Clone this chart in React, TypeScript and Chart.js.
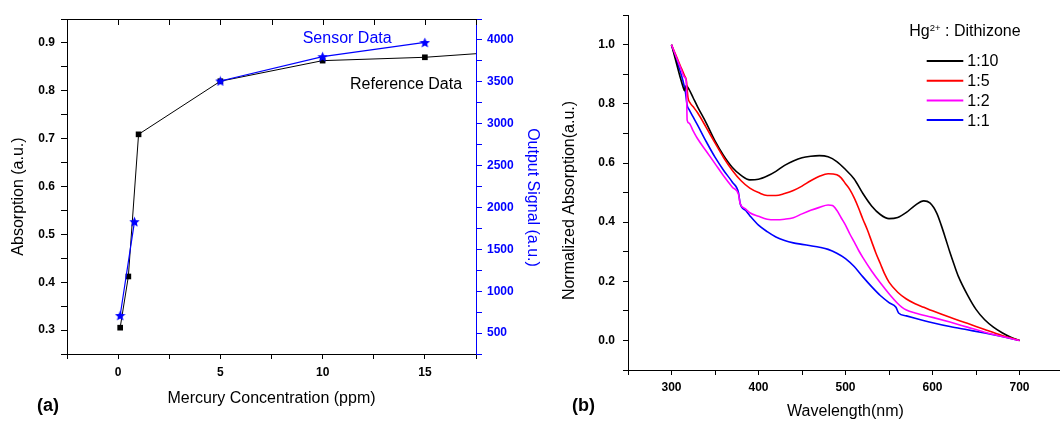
import React, { useEffect, useRef } from 'react';
import { Chart, registerables } from 'chart.js';

Chart.register(...registerables);

// ---------- Panel (a) data ----------
const refConc = [0.1, 0.5, 1.0, 5, 10, 15, 20];
const refAbs = [0.305, 0.412, 0.709, 0.82, 0.863, 0.87, 0.885];
const sensorConc = [0.1, 0.8, 1.0, 5, 10, 15];
const sensorSignal = [710, 1830, null, 3510, 3800, 3970];
const refLabel = 'Reference Data';
const sensorLabel = 'Sensor Data';

const xTicksA = [-2.5, 0, 2.5, 5, 7.5, 10, 12.5, 15, 17.5];
const xLabelsA = ['', '0', '', '5', '', '10', '', '15', ''];
const yTicksA = [0.25, 0.3, 0.35, 0.4, 0.45, 0.5, 0.55, 0.6, 0.65, 0.7, 0.75, 0.8, 0.85, 0.9, 0.95];
const yLabelsA = ['', '0.3', '', '0.4', '', '0.5', '', '0.6', '', '0.7', '', '0.8', '', '0.9', ''];
const y2TicksA = [250, 500, 750, 1000, 1250, 1500, 1750, 2000, 2250, 2500, 2750, 3000, 3250, 3500, 3750, 4000, 4250];
const y2LabelsA = ['', '500', '', '1000', '', '1500', '', '2000', '', '2500', '', '3000', '', '3500', '', '4000', ''];

// ---------- Panel (b) data ----------
const wl110 = [300, 305, 310, 313, 315, 317, 320, 325, 330, 340, 350, 360, 370, 380, 390, 400, 410, 420, 430, 440, 450, 460, 470, 480, 490, 500, 510, 520, 530, 540, 550, 560, 570, 580, 590, 597, 605, 610, 615, 620, 625, 630, 640, 650, 660, 670, 680, 690, 700];
const abs110 = [1.0, 0.945, 0.89, 0.86, 0.845, 0.862, 0.85, 0.82, 0.79, 0.735, 0.675, 0.625, 0.585, 0.558, 0.543, 0.545, 0.556, 0.572, 0.592, 0.607, 0.618, 0.623, 0.625, 0.621, 0.605, 0.578, 0.546, 0.497, 0.455, 0.426, 0.412, 0.416, 0.433, 0.457, 0.472, 0.465, 0.43, 0.39, 0.345, 0.298, 0.255, 0.215, 0.155, 0.105, 0.07, 0.045, 0.026, 0.011, 0.0];

const wl15 = [300, 305, 310, 315, 317, 319, 321, 325, 330, 340, 350, 360, 370, 380, 390, 400, 410, 420, 430, 440, 450, 460, 470, 480, 490, 495, 500, 505, 510, 515, 520, 525, 530, 535, 540, 545, 550, 560, 570, 580, 590, 600, 620, 640, 660, 680, 700];
const abs15 = [1.0, 0.965, 0.93, 0.895, 0.88, 0.82, 0.805, 0.79, 0.77, 0.72, 0.668, 0.618, 0.575, 0.54, 0.515, 0.5, 0.49, 0.49, 0.497, 0.507, 0.522, 0.54, 0.555, 0.564, 0.56, 0.55, 0.53, 0.51, 0.482, 0.448, 0.41, 0.375, 0.335, 0.295, 0.26, 0.225, 0.197, 0.163, 0.14, 0.124, 0.112, 0.1, 0.078, 0.058, 0.037, 0.017, 0.0];

const wl12 = [300, 305, 310, 315, 317, 318, 320, 325, 330, 340, 350, 360, 370, 377, 379, 385, 390, 400, 410, 420, 430, 440, 450, 460, 470, 480, 485, 490, 495, 500, 505, 510, 515, 520, 530, 540, 550, 560, 565, 570, 580, 600, 620, 640, 660, 680, 700];
const abs12 = [1.0, 0.962, 0.925, 0.89, 0.875, 0.745, 0.735, 0.708, 0.682, 0.64, 0.598, 0.556, 0.518, 0.494, 0.462, 0.445, 0.432, 0.42, 0.41, 0.408, 0.41, 0.415, 0.428, 0.44, 0.45, 0.458, 0.456, 0.44, 0.415, 0.39, 0.36, 0.333, 0.305, 0.28, 0.235, 0.195, 0.158, 0.125, 0.112, 0.103, 0.093, 0.078, 0.062, 0.045, 0.028, 0.013, 0.0];

const wl11 = [300, 305, 310, 313, 316, 318, 320, 325, 330, 340, 350, 360, 370, 377, 379, 385, 390, 400, 410, 420, 430, 440, 450, 460, 470, 480, 490, 500, 510, 520, 530, 540, 550, 558, 561, 570, 580, 600, 620, 640, 660, 680, 700];
const abs11 = [1.0, 0.955, 0.91, 0.88, 0.84, 0.795, 0.782, 0.755, 0.728, 0.672, 0.62, 0.575, 0.535, 0.5, 0.462, 0.44, 0.422, 0.39, 0.368, 0.35, 0.338, 0.33, 0.325, 0.32, 0.315, 0.308, 0.295, 0.277, 0.25, 0.215, 0.182, 0.152, 0.128, 0.112, 0.093, 0.083, 0.075, 0.06, 0.047, 0.036, 0.025, 0.013, 0.0];

const ratioLabels = ['1:10', '1:5', '1:2', '1:1'];
const legendTitleMain = 'Hg';
const legendTitleSup = '2+';
const legendTitleRest = ' : Dithizone';

const xTicksB = [250, 300, 350, 400, 450, 500, 550, 600, 650, 700, 750];
const xLabelsB = ['', '300', '', '400', '', '500', '', '600', '', '700', ''];
const yTicksB = [-0.1, 0, 0.1, 0.2, 0.3, 0.4, 0.5, 0.6, 0.7, 0.8, 0.9, 1.0, 1.1];
const yLabelsB = ['', '0.0', '', '0.2', '', '0.4', '', '0.6', '', '0.8', '', '1.0', ''];

const FONT = '"Liberation Sans", Arial, Helvetica, sans-serif';
const BLUE = '#0000ff';

const pts = (xs: number[], ys: (number | null)[]) => xs.map((x, i) => ({ x, y: ys[i] }));

function makeStar(color: string, size: number) {
  const c = document.createElement('canvas');
  c.width = size;
  c.height = size;
  const ctx = c.getContext('2d')!;
  const cx = size / 2, cy = size / 2 + 0.5, R = size / 2, r = R * 0.45;
  ctx.beginPath();
  for (let i = 0; i < 10; i++) {
    const a = -Math.PI / 2 + (i * Math.PI) / 5;
    const rad = i % 2 === 0 ? R : r;
    ctx.lineTo(cx + rad * Math.cos(a), cy + rad * Math.sin(a));
  }
  ctx.closePath();
  ctx.fillStyle = color;
  ctx.fill();
  return c;
}

type TextItem = { text: string; x: number; y: number; rot?: number; font: string; color: string; align?: CanvasTextAlign; baseline?: CanvasTextBaseline };

function textPlugin(id: string, items: (chart: any) => TextItem[]) {
  return {
    id,
    afterDraw(chart: any) {
      const ctx = chart.ctx as CanvasRenderingContext2D;
      for (const t of items(chart)) {
        ctx.save();
        ctx.translate(t.x, t.y);
        if (t.rot) ctx.rotate(t.rot);
        ctx.font = t.font;
        ctx.fillStyle = t.color;
        ctx.textAlign = t.align || 'left';
        ctx.textBaseline = t.baseline || 'alphabetic';
        ctx.fillText(t.text, 0, 0);
        ctx.restore();
      }
    },
  };
}

const topAxisPlugin = {
  id: 'topAxis',
  afterDraw(chart: any) {
    const { ctx, chartArea, scales } = chart;
    const x = scales.x;
    ctx.save();
    ctx.strokeStyle = '#000';
    ctx.lineWidth = 1;
    ctx.beginPath();
    ctx.moveTo(chartArea.left, chartArea.top + 0.5);
    ctx.lineTo(chartArea.right, chartArea.top + 0.5);
    for (const v of xTicksA) {
      const px = Math.round(x.getPixelForValue(v)) + 0.5;
      ctx.moveTo(px, chartArea.top);
      ctx.lineTo(px, chartArea.top + 6);
    }
    ctx.stroke();
    ctx.restore();
  },
};

const legendPluginB = {
  id: 'legendB',
  afterDraw(chart: any) {
    const ctx = chart.ctx as CanvasRenderingContext2D;
    ctx.save();
    ctx.fillStyle = '#000';
    ctx.textAlign = 'left';
    ctx.textBaseline = 'alphabetic';
    let x = 349.3;
    ctx.font = `16px ${FONT}`;
    ctx.fillText(legendTitleMain, x, 35.7);
    x += ctx.measureText(legendTitleMain).width;
    ctx.font = `9.5px ${FONT}`;
    ctx.fillText(legendTitleSup, x, 31);
    x += ctx.measureText(legendTitleSup).width;
    ctx.font = `16px ${FONT}`;
    ctx.fillText(legendTitleRest, x, 35.7);
    chart.data.datasets.forEach((ds: any, i: number) => {
      const y = 61 + i * 19.7;
      ctx.strokeStyle = ds.borderColor;
      ctx.lineWidth = 2;
      ctx.beginPath();
      ctx.moveTo(366.7, y);
      ctx.lineTo(403.3, y);
      ctx.stroke();
      ctx.fillStyle = '#000';
      ctx.textBaseline = 'middle';
      ctx.font = `16px ${FONT}`;
      ctx.fillText(ds.label, 407.3, y + 1);
    });
    ctx.restore();
  },
};

const tickFont = { family: FONT, size: 12, weight: 'bold' as const };

function axisCommon(ticksArr: number[], labels: string[], color: string, tickLen: number, pad: number) {
  return {
    type: 'linear' as const,
    afterBuildTicks: (s: any) => {
      s.ticks = ticksArr.map((v) => ({ value: v }));
    },
    ticks: {
      autoSkip: false,
      maxRotation: 0,
      minRotation: 0,
      padding: pad,
      color,
      font: tickFont,
      callback: (_v: any, i: number) => labels[i] ?? '',
    },
    grid: { drawOnChartArea: false, drawTicks: true, tickLength: tickLen, color, tickWidth: 1 },
    border: { display: true, color, width: 1 },
  };
}

export default function App() {
  const refA = useRef<HTMLCanvasElement>(null);
  const refB = useRef<HTMLCanvasElement>(null);

  useEffect(() => {
    const star = makeStar(BLUE, 11);
    const chartA = new Chart(refA.current!, {
      type: 'line',
      data: {
        datasets: [
          {
            label: sensorLabel,
            data: pts(sensorConc, sensorSignal) as any,
            yAxisID: 'y2',
            borderColor: BLUE,
            backgroundColor: BLUE,
            borderWidth: 1.2,
            pointStyle: star as any,
            pointRadius: 5,
            spanGaps: false,
            order: 0,
          },
          {
            label: refLabel,
            data: pts(refConc, refAbs) as any,
            yAxisID: 'y',
            borderColor: '#000',
            backgroundColor: '#000',
            borderWidth: 1,
            pointStyle: 'rect',
            pointRadius: 4,
            pointBorderWidth: 0,
            clip: 0,
            order: 1,
          },
        ],
      },
      options: {
        responsive: false,
        animation: false,
        events: [],
        layout: { padding: { left: 0, top: 19, right: 0, bottom: 0 }, autoPadding: false },
        plugins: { legend: { display: false }, tooltip: { enabled: false } },
        scales: {
          x: {
            ...axisCommon(xTicksA, xLabelsA, '#000', 5, 6),
            position: 'bottom',
            min: -2.5,
            max: 17.5,
            afterFit: (s: any) => {
              s.height = 67;
            },
            title: {
              display: true,
              text: 'Mercury Concentration (ppm)',
              color: '#000',
              font: { family: FONT, size: 16 },
              padding: { top: 0, bottom: 13 },
            },
          },
          y: {
            ...axisCommon(yTicksA, yLabelsA, '#000', 6, 6),
            position: 'left',
            min: 0.25,
            max: 0.95,
            afterFit: (s: any) => {
              s.width = 67;
            },
          },
          y2: {
            ...axisCommon(y2TicksA, y2LabelsA, BLUE, 6, 5),
            position: 'right',
            min: 250,
            max: 4250,
            afterFit: (s: any) => {
              s.width = 84;
            },
          },
        } as any,
      },
      plugins: [
        topAxisPlugin,
        textPlugin('textA', (chart: any) => [
          { text: 'Absorption (a.u.)', x: 19, y: 196.5, rot: -Math.PI / 2, font: `16px ${FONT}`, color: '#000', align: 'center', baseline: 'middle' },
          { text: 'Output Signal (a.u.)', x: 532, y: 197.5, rot: Math.PI / 2, font: `16px ${FONT}`, color: BLUE, align: 'center', baseline: 'middle' },
          { text: chart.data.datasets[0].label, x: 302.7, y: 42.5, font: `16px ${FONT}`, color: BLUE },
          { text: chart.data.datasets[1].label, x: 350, y: 89, font: `16px ${FONT}`, color: '#000' },
          { text: '(a)', x: 37, y: 406.5, font: `bold 18px ${FONT}`, color: '#000', baseline: 'middle' },
        ]),
      ],
    });

    const series = [
      { wl: wl110, ab: abs110, color: '#000000', order: 2 },
      { wl: wl15, ab: abs15, color: '#ff0000', order: 1 },
      { wl: wl12, ab: abs12, color: '#ff00ff', order: 0 },
      { wl: wl11, ab: abs11, color: '#0000ff', order: 3 },
    ];

    const chartB = new Chart(refB.current!, {
      type: 'line',
      data: {
        datasets: series.map((s, i) => ({
          label: ratioLabels[i],
          data: pts(s.wl, s.ab) as any,
          borderColor: s.color,
          backgroundColor: s.color,
          borderWidth: 1.6,
          pointRadius: 0,
          cubicInterpolationMode: 'monotone' as const,
          order: s.order,
        })),
      },
      options: {
        responsive: false,
        animation: false,
        events: [],
        layout: { padding: { left: 0, top: 10, right: 0, bottom: 0 }, autoPadding: false },
        plugins: { legend: { display: false }, tooltip: { enabled: false } },
        scales: {
          x: {
            ...axisCommon(xTicksB, xLabelsB, '#000', 5, 5),
            position: 'bottom',
            min: 250,
            max: 750,
            afterFit: (s: any) => {
              s.height = 51;
            },
            title: {
              display: true,
              text: 'Wavelength(nm)',
              color: '#000',
              font: { family: FONT, size: 16 },
              padding: { top: 0, bottom: 0 },
            },
          },
          y: {
            ...axisCommon(yTicksB, yLabelsB, '#000', 5, 8),
            position: 'left',
            min: -0.1,
            max: 1.1,
            afterFit: (s: any) => {
              s.width = 68;
            },
          },
        } as any,
      },
      plugins: [
        legendPluginB,
        textPlugin('textB', () => [
          { text: 'Normalized Absorption(a.u.)', x: 10, y: 200.5, rot: -Math.PI / 2, font: `16px ${FONT}`, color: '#000', align: 'center', baseline: 'middle' },
          { text: '(b)', x: 12, y: 406.5, font: `bold 18px ${FONT}`, color: '#000', baseline: 'middle' },
        ]),
      ],
    });

    return () => {
      chartA.destroy();
      chartB.destroy();
    };
  }, []);

  return (
    <div style={{ position: 'fixed', left: 0, top: 0, width: 1060, height: 421, overflow: 'hidden', background: '#fff' }}>
      <canvas ref={refA} width={560} height={421} style={{ position: 'absolute', left: 0, top: 0, width: 560, height: 421 }} />
      <canvas ref={refB} width={508} height={421} style={{ position: 'absolute', left: 560, top: 0, width: 508, height: 421 }} />
    </div>
  );
}
